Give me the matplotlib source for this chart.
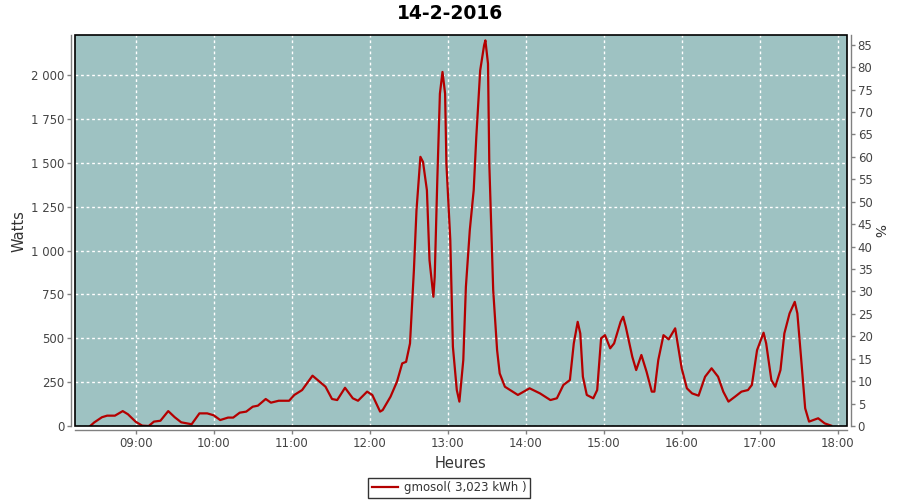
import matplotlib
matplotlib.use('Agg')
import matplotlib.pyplot as plt
from matplotlib.patches import Rectangle
from matplotlib.ticker import FixedLocator, FuncFormatter

# readings of the day (time of day, watts)
times = ['08:25', '08:28', '08:34', '08:38', '08:44', '08:50', '08:54', '09:00', '09:05', '09:10',
         '09:14', '09:19', '09:25', '09:30', '09:35', '09:43', '09:49', '09:55', '10:00', '10:05',
         '10:11', '10:15', '10:20', '10:25', '10:30', '10:34', '10:40', '10:44', '10:50', '10:58',
         '11:02', '11:08', '11:16', '11:22', '11:26', '11:31', '11:35', '11:41', '11:47', '11:51',
         '11:58', '12:02', '12:08', '12:10', '12:16', '12:21', '12:25', '12:28', '12:31', '12:34',
         '12:36', '12:39', '12:41', '12:44', '12:46', '12:49', '12:50', '12:52', '12:54', '12:56',
         '12:58', '12:59', '13:02', '13:04', '13:07', '13:09', '13:12', '13:14', '13:17', '13:20',
         '13:22', '13:25', '13:28', '13:29', '13:31', '13:32', '13:35', '13:38', '13:40', '13:44',
         '13:50', '13:54', '14:03', '14:11', '14:19', '14:24', '14:29', '14:34', '14:37', '14:40',
         '14:42', '14:44', '14:47', '14:52', '14:55', '14:58', '15:01', '15:05', '15:08', '15:13',
         '15:15', '15:17', '15:22', '15:25', '15:29', '15:33', '15:37', '15:39', '15:42', '15:46',
         '15:50', '15:55', '16:00', '16:04', '16:08', '16:13', '16:18', '16:23', '16:28', '16:32',
         '16:36', '16:41', '16:46', '16:51', '16:54', '16:58', '17:03', '17:05', '17:09', '17:12',
         '17:16', '17:19', '17:23', '17:27', '17:29', '17:32', '17:35', '17:38', '17:45', '17:50',
         '17:55']
watts = [0, 20, 50, 59, 59, 85, 67, 24, 2, 0,
         25, 30, 85, 50, 21, 10, 72, 72, 61, 34,
         48, 48, 76, 82, 110, 116, 154, 133, 144, 144,
         177, 205, 287, 249, 224, 154, 148, 218, 158, 144,
         196, 177, 82, 91, 167, 253, 357, 366, 471, 889,
         1231, 1535, 1506, 1345, 946, 737, 851, 1402, 1895, 2019,
         1895, 1497, 1060, 452, 205, 139, 376, 794, 1117, 1345,
         1648, 2028, 2171, 2199, 2066, 1497, 775, 433, 300, 224,
         196, 177, 215, 186, 148, 158, 234, 262, 471, 594,
         528, 281, 177, 158, 205, 500, 518, 443, 471, 594,
         623, 566, 395, 319, 405, 309, 196, 196, 376, 518,
         494, 557, 329, 215, 186, 173, 281, 329, 281, 196,
         139, 167, 196, 205, 234, 433, 532, 471, 262, 224,
         319, 528, 642, 708, 642, 376, 101, 25, 44, 15,
         2]

hour_ticks = [9, 10, 11, 12, 13, 14, 15, 16, 17, 18]
watt_ticks = [0, 250, 500, 750, 1000, 1250, 1500, 1750, 2000]
pct_ticks = list(range(0, 90, 5))
title = '14-2-2016'
legend_label = 'gmosol( 3,023 kWh )'

hours = [int(t[:2]) + int(t[3:]) / 60 for t in times]

bg = '#9ec2c2'
red = '#b40000'
axis_gray = '#808080'
label_gray = '#444444'

fig = plt.figure(figsize=(9, 5), dpi=100)
ax = fig.add_axes([0.0837, 0.148, 0.857, 0.7814])
ax.set_facecolor(bg)

ax.plot(hours, watts, color=red, linewidth=1.6, label=legend_label, zorder=3)

ax.set_xlim(8.2256, 18.115)
ax.set_ylim(0, 2228)
ax.xaxis.set_major_locator(FixedLocator(hour_ticks))
ax.xaxis.set_major_formatter(FuncFormatter(lambda v, p: '%02d:00' % int(round(v))))
ax.yaxis.set_major_locator(FixedLocator(watt_ticks))
ax.yaxis.set_major_formatter(FuncFormatter(lambda v, p: '{:,}'.format(int(v)).replace(',', ' ')))

ax.grid(True, color='white', linestyle=(0, (2, 2)), linewidth=1.0, zorder=1)
ax.set_axisbelow(True)

# right axis in percent
ax2 = ax.twinx()
ax2.set_ylim(0, 87.1)
ax2.yaxis.set_major_locator(FixedLocator(pct_ticks))

for a in (ax, ax2):
    for s in a.spines.values():
        s.set_color(axis_gray)
        s.set_linewidth(1.0)
    a.spines['top'].set_visible(False)
    a.tick_params(colors=axis_gray, labelcolor=label_gray, labelsize=8.5,
                  length=3, width=1, direction='out', pad=2)
ax.spines['right'].set_visible(False)
ax2.spines['left'].set_visible(False)
ax2.spines['bottom'].set_visible(False)
ax.spines['left'].set_position(('outward', 3))
ax.spines['bottom'].set_position(('outward', 3))
ax2.spines['right'].set_position(('outward', 3))

# black plot outline
ax.add_patch(Rectangle((0, 0), 1, 1, transform=ax.transAxes, fill=False,
                       edgecolor='black', linewidth=1.2, clip_on=False, zorder=5))

ax.set_xlabel('Heures', fontsize=10.5, color='#333333', labelpad=4)
ax.set_ylabel('Watts', fontsize=10.5, color='#333333', labelpad=3)
ax2.set_ylabel('%', fontsize=10, color='#333333', rotation=270, labelpad=9)

fig.text(0.5, 0.973, title, ha='center', va='center', fontsize=13.5, fontweight='bold')

leg = fig.legend(loc='center', bbox_to_anchor=(0.499, 0.024), fontsize=8.5,
                 frameon=True, fancybox=False, shadow=False, handlelength=2.2,
                 handletextpad=0.5, borderpad=0.3, borderaxespad=0)
leg.get_frame().set_edgecolor('black')
leg.get_frame().set_linewidth(1.0)
for t in leg.get_texts():
    t.set_color('#333333')

fig.savefig('out.png', dpi=100)
